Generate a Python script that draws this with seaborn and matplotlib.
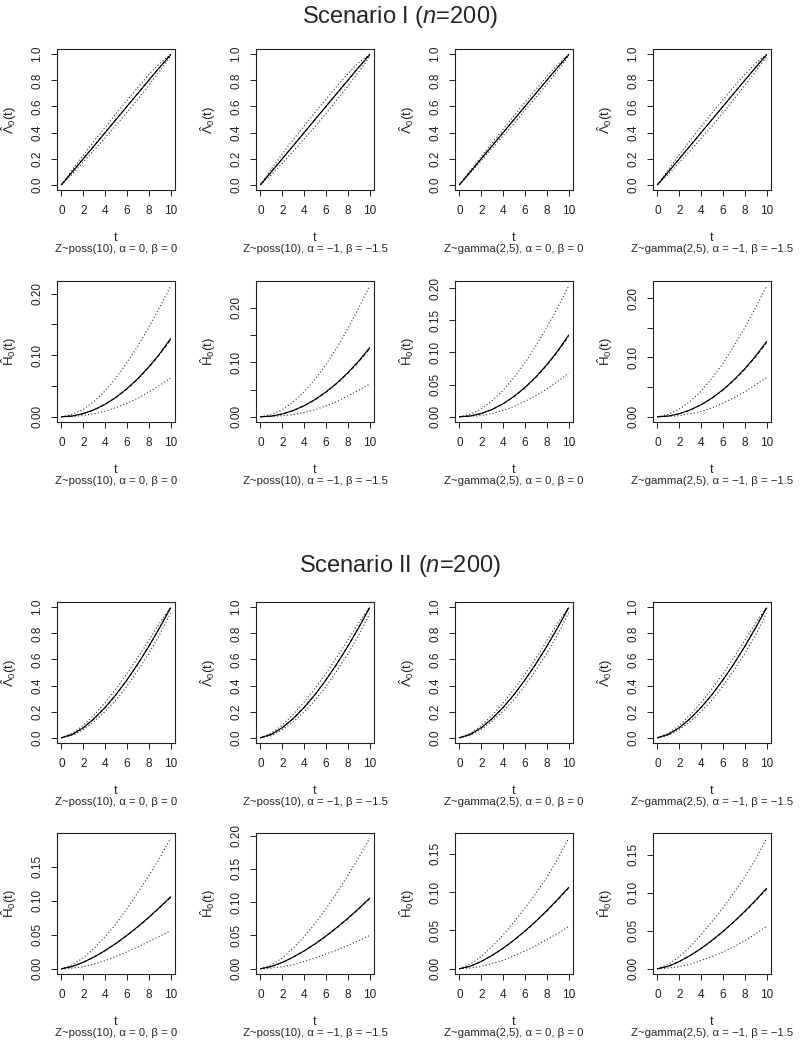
import matplotlib
matplotlib.use('Agg')
import matplotlib.pyplot as plt
from matplotlib.ticker import MultipleLocator, FuncFormatter
import numpy as np
import seaborn as sns

sns.set_style('ticks')
plt.rcParams['font.family'] = ['Liberation Sans', 'DejaVu Sans']
plt.rcParams['mathtext.fontset'] = 'custom'
plt.rcParams['mathtext.rm'] = 'Liberation Sans'
plt.rcParams['mathtext.it'] = 'Liberation Sans:italic'

# time grid
T = [0, 1, 2, 3, 4, 5, 6, 7, 8, 9, 10]

CAPTIONS = ['Z~poss(10), α = 0, β = 0',
            'Z~poss(10), α = −1, β = −1.5',
            'Z~gamma(2,5), α = 0, β = 0',
            'Z~gamma(2,5), α = −1, β = −1.5']

# Scenario I, cumulative baseline (true / estimate)
S1_LAM_TRUE = [0, 0.1, 0.2, 0.3, 0.4, 0.5, 0.6, 0.7, 0.8, 0.9, 1.0]
S1_LAM_EST = [0, 0.098, 0.198, 0.298, 0.399, 0.499, 0.6, 0.7, 0.8, 0.9, 0.995]
S1_LAM_UP = [
    [0, 0.115, 0.225, 0.335, 0.44, 0.545, 0.645, 0.745, 0.845, 0.93, 1.0],
    [0, 0.12, 0.235, 0.345, 0.45, 0.555, 0.655, 0.755, 0.85, 0.935, 1.0],
    [0, 0.11, 0.215, 0.32, 0.425, 0.53, 0.63, 0.73, 0.83, 0.92, 1.0],
    [0, 0.115, 0.23, 0.34, 0.445, 0.55, 0.65, 0.75, 0.845, 0.93, 1.0],
]
S1_LAM_LO = [
    [0, 0.08, 0.175, 0.265, 0.36, 0.455, 0.555, 0.655, 0.76, 0.87, 0.985],
    [0, 0.075, 0.165, 0.255, 0.35, 0.445, 0.545, 0.65, 0.755, 0.865, 0.98],
    [0, 0.09, 0.185, 0.28, 0.375, 0.47, 0.57, 0.67, 0.77, 0.875, 0.985],
    [0, 0.08, 0.17, 0.26, 0.355, 0.45, 0.55, 0.655, 0.76, 0.87, 0.98],
]

# Scenario I, H
S1_H_TRUE = [0, 0.00125, 0.005, 0.01125, 0.02, 0.03125, 0.045, 0.06125, 0.08, 0.10125, 0.125]
S1_H_EST = [0, 0.0013, 0.0051, 0.0115, 0.0203, 0.0317, 0.0456, 0.062, 0.081, 0.1025, 0.127]
S1_H_UP = [
    [0, 0.004, 0.012, 0.025, 0.042, 0.063, 0.088, 0.115, 0.145, 0.178, 0.212],
    [0, 0.004, 0.013, 0.027, 0.046, 0.069, 0.096, 0.127, 0.162, 0.2, 0.24],
    [0, 0.004, 0.012, 0.025, 0.041, 0.061, 0.084, 0.11, 0.139, 0.17, 0.203],
    [0, 0.004, 0.013, 0.026, 0.043, 0.065, 0.09, 0.119, 0.15, 0.184, 0.22],
]
S1_H_LO = [
    [0, 0.0005, 0.002, 0.005, 0.009, 0.015, 0.022, 0.03, 0.04, 0.051, 0.063],
    [0, 0.0005, 0.002, 0.004, 0.008, 0.013, 0.02, 0.028, 0.038, 0.049, 0.06],
    [0, 0.0006, 0.002, 0.005, 0.01, 0.016, 0.024, 0.033, 0.043, 0.055, 0.068],
    [0, 0.0005, 0.002, 0.005, 0.009, 0.015, 0.023, 0.032, 0.042, 0.054, 0.066],
]

# Scenario II, cumulative baseline
S2_LAM_TRUE = [0, 0.025, 0.076, 0.146, 0.231, 0.33, 0.442, 0.565, 0.7, 0.845, 1.0]
S2_LAM_EST = [0, 0.026, 0.077, 0.147, 0.232, 0.331, 0.443, 0.566, 0.7, 0.843, 0.995]
S2_LAM_UP = [
    [0, 0.035, 0.095, 0.175, 0.27, 0.375, 0.49, 0.615, 0.745, 0.88, 1.0],
    [0, 0.036, 0.097, 0.178, 0.273, 0.378, 0.493, 0.617, 0.747, 0.882, 1.0],
    [0, 0.034, 0.093, 0.172, 0.266, 0.37, 0.485, 0.61, 0.742, 0.878, 1.0],
    [0, 0.035, 0.095, 0.175, 0.27, 0.375, 0.49, 0.615, 0.745, 0.88, 1.0],
]
S2_LAM_LO = [
    [0, 0.018, 0.062, 0.125, 0.2, 0.29, 0.395, 0.515, 0.645, 0.79, 0.955],
    [0, 0.017, 0.06, 0.122, 0.197, 0.287, 0.392, 0.512, 0.642, 0.787, 0.95],
    [0, 0.019, 0.063, 0.127, 0.203, 0.293, 0.398, 0.518, 0.648, 0.792, 0.958],
    [0, 0.018, 0.062, 0.125, 0.2, 0.29, 0.395, 0.515, 0.645, 0.79, 0.955],
]

# Scenario II, H
S2_H_TRUE = [0, 0.0033, 0.0094, 0.0173, 0.0266, 0.0371, 0.0488, 0.0615, 0.0751, 0.0897, 0.105]
S2_H_EST = [0, 0.0034, 0.0095, 0.0175, 0.0268, 0.0374, 0.0492, 0.062, 0.0758, 0.0905, 0.106]
S2_H_UP = [
    [0, 0.006, 0.016, 0.03, 0.047, 0.066, 0.088, 0.112, 0.137, 0.163, 0.192],
    [0, 0.006, 0.016, 0.031, 0.048, 0.068, 0.09, 0.114, 0.14, 0.167, 0.196],
    [0, 0.006, 0.016, 0.029, 0.044, 0.061, 0.079, 0.098, 0.119, 0.143, 0.17],
    [0, 0.006, 0.016, 0.029, 0.045, 0.062, 0.08, 0.1, 0.121, 0.145, 0.172],
]
S2_H_LO = [
    [0, 0.001, 0.003, 0.007, 0.012, 0.018, 0.025, 0.032, 0.04, 0.048, 0.056],
    [0, 0.001, 0.003, 0.006, 0.011, 0.016, 0.022, 0.028, 0.035, 0.042, 0.05],
    [0, 0.001, 0.003, 0.007, 0.011, 0.017, 0.023, 0.03, 0.038, 0.046, 0.055],
    [0, 0.001, 0.003, 0.006, 0.011, 0.016, 0.022, 0.029, 0.037, 0.046, 0.056],
]

# labelled y ticks on the H panels (others are drawn unlabelled)
H_LABELS_S1 = [[0.0, 0.1, 0.2], [0.0, 0.1, 0.2],
               [0.0, 0.05, 0.1, 0.15, 0.2], [0.0, 0.1, 0.2]]
H_LABELS_S2 = [[0.0, 0.05, 0.1, 0.15], [0.0, 0.05, 0.1, 0.15, 0.2],
               [0.0, 0.05, 0.1, 0.15], [0.0, 0.05, 0.1, 0.15]]

LAM_LABEL = r'$\mathrm{\hat{\Lambda}_0(t)}$'
H_LABEL = r'$\mathrm{\hat{H}_0(t)}$'

W, H = 800, 1045
fig = plt.figure(figsize=(W / 100, H / 100), dpi=100)

COL_LEFT = [57, 256, 455, 653]
ROW_TOP = [49, 281, 602, 833]
BOX_W, BOX_H = 118, 141
DOT = (0, (1, 2))


def add_panel(row, col):
    left, top = COL_LEFT[col], ROW_TOP[row]
    return fig.add_axes([left / W, 1 - (top + BOX_H) / H, BOX_W / W, BOX_H / H])


def draw(ax, true, est, lo, up, ylabel, fmt, labelled=None):
    sns.lineplot(x=T, y=up, ax=ax, color='#333333', linestyle=DOT, linewidth=0.8)
    sns.lineplot(x=T, y=lo, ax=ax, color='#333333', linestyle=DOT, linewidth=0.8)
    sns.lineplot(x=T, y=true, ax=ax, color='k', linestyle=(0, (4, 2)), linewidth=0.7)
    sns.lineplot(x=T, y=est, ax=ax, color='k', linewidth=0.8)
    ax.margins(x=0.04, y=0.04)
    ax.set_xticks([0, 2, 4, 6, 8, 10])
    if labelled is None:
        ax.yaxis.set_major_locator(MultipleLocator(0.2))
        ax.yaxis.set_major_formatter(FuncFormatter(lambda v, p: fmt % v))
    else:
        ax.yaxis.set_major_locator(MultipleLocator(0.05))
        ax.yaxis.set_major_formatter(FuncFormatter(
            lambda v, p: fmt % v if any(abs(v - l) < 1e-6 for l in labelled) else ''))
    ax.tick_params(direction='out', length=4, width=0.7, labelsize=8.5,
                   colors='#222222')
    ax.tick_params(axis='x', pad=7)
    ax.tick_params(axis='y', pad=6)
    for lab in ax.get_yticklabels():
        lab.set_rotation(90)
        lab.set_va('center')
    for s in ax.spines.values():
        s.set_linewidth(0.8)
        s.set_color('#222222')
    ax.set_xlabel('t', fontsize=9)
    ax.xaxis.set_label_coords(0.5, -0.30)
    ax.set_ylabel(ylabel, fontsize=9.5)
    ax.yaxis.set_label_coords(-0.32, 0.5)


def caption(row, col):
    cx = COL_LEFT[col] + BOX_W / 2
    cy = ROW_TOP[row] + BOX_H + 59
    fig.text(cx / W, 1 - cy / H, CAPTIONS[col], ha='center', va='center',
             fontsize=8.2)


for c in range(4):
    ax = add_panel(0, c)
    draw(ax, S1_LAM_TRUE, S1_LAM_EST, S1_LAM_LO[c], S1_LAM_UP[c], LAM_LABEL, '%.1f')
    caption(0, c)
    ax = add_panel(1, c)
    draw(ax, S1_H_TRUE, S1_H_EST, S1_H_LO[c], S1_H_UP[c], H_LABEL, '%.2f', H_LABELS_S1[c])
    caption(1, c)
    ax = add_panel(2, c)
    draw(ax, S2_LAM_TRUE, S2_LAM_EST, S2_LAM_LO[c], S2_LAM_UP[c], LAM_LABEL, '%.1f')
    caption(2, c)
    ax = add_panel(3, c)
    draw(ax, S2_H_TRUE, S2_H_EST, S2_H_LO[c], S2_H_UP[c], H_LABEL, '%.2f', H_LABELS_S2[c])
    caption(3, c)

fig.text(0.5, 1 - 17 / H, r'Scenario I ($n$=200)', ha='center', va='center', fontsize=17)
fig.text(0.5, 1 - 566 / H, r'Scenario II ($n$=200)', ha='center', va='center', fontsize=17)

fig.savefig('out.png', dpi=100, facecolor='white')
